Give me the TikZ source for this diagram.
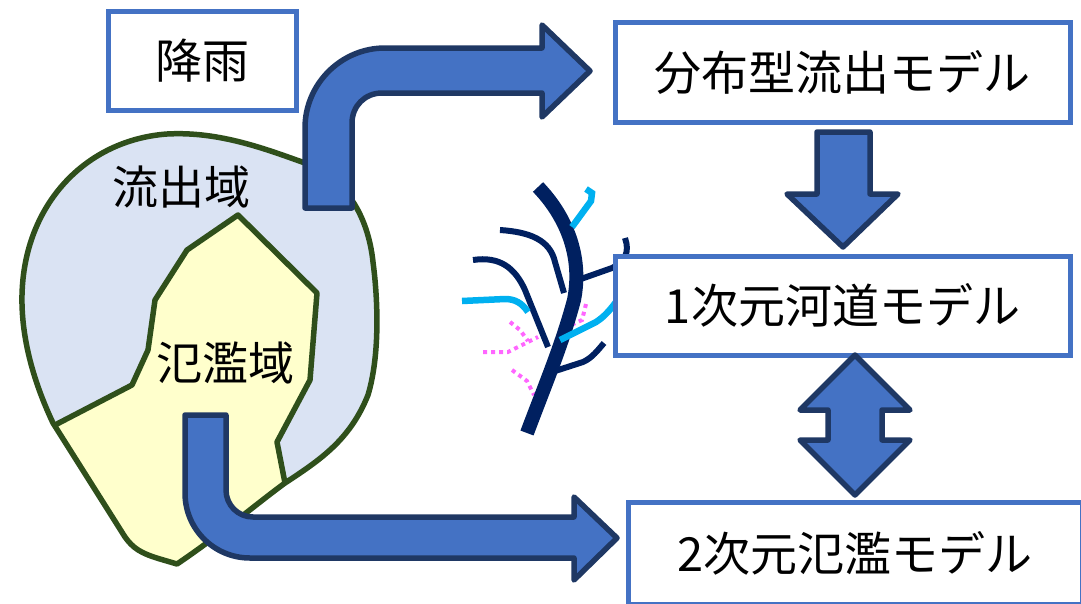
\documentclass[tikz,border=0pt]{standalone}
\usepackage{fontspec}
\newfontfamily\jp{Noto Sans CJK JP}
\definecolor{boxblue}{HTML}{4472C4}
\definecolor{arrowedge}{HTML}{1F3864}
\definecolor{basinfill}{HTML}{DAE3F3}
\definecolor{floodfill}{HTML}{FFFFCC}
\definecolor{basinedge}{HTML}{2F4F1B}
\definecolor{rivernavy}{HTML}{002060}
\definecolor{riverblue}{HTML}{00B0F0}
\definecolor{overflowpink}{HTML}{FF66FF}
\tikzset{%
  modelbox/.style  = {shape=rectangle, draw=boxblue, line width=5pt,%
                      fill=white, inner sep=0pt,%
                      font=\jp\fontsize{47}{50}\selectfont},%
  arealabel/.style = {inner sep=0pt, font=\jp\fontsize{46}{50}\selectfont},%
  bigarrow/.style  = {fill=boxblue, draw=arrowedge, line width=5.5pt, line join=round},%
  basinline/.style = {draw=basinedge, line width=5.5pt, line join=round},%
  trunk/.style     = {draw=rivernavy, line width=14pt},%
  branch/.style    = {draw=rivernavy, line width=6pt},%
  stream/.style    = {draw=riverblue, line width=6.5pt},%
  overflow/.style  = {draw=overflowpink, line width=4pt, dash pattern=on 4pt off 4pt}%
}
% outline of the whole catchment
\newcommand\basinoutline{(177,564) -- (160,559) .. controls (140,553) and (133,548) .. (125,537)
  -- (53,423) .. controls (35,385) and (21,340) .. (22,295)
  .. controls (24,205) and (85,140) .. (167,134)
  .. controls (220,131) and (268,150) .. (305,163)
  .. controls (345,178) and (368,215) .. (373,262)
  .. controls (378,300) and (380,355) .. (368,395)
  .. controls (350,440) and (320,460) .. (285,483)
  .. controls (255,505) and (220,535) .. (177,564) -- cycle}

\begin{document}
\begin{tikzpicture}[x=1pt,y=-1pt]
	\useasboundingbox (0,0) rectangle (1081,603);
	% catchment and flood plain
	\fill[basinfill] \basinoutline;
	\begin{scope}
		\clip \basinoutline;
		\fill[floodfill] (55,425) -- (132,385) -- (148,350) -- (155,300) -- (187,250)
			-- (238,215) -- (317,293) -- (310,380) -- (277,442) -- (285,483)
			-- (340,540) -- (177,620) -- (20,560) -- (0,440) -- cycle;
		\draw[basinline] (55,425) -- (132,385) -- (148,350) -- (155,300) -- (187,250)
			-- (238,215) -- (317,293) -- (310,380) -- (277,442) -- (285,483);
	\end{scope}
	\draw[basinline] \basinoutline;
	\node[arealabel] (basin) at (181,187) {流出域};
	\node[arealabel] (plain) at (225,363) {氾濫域};
	% bent arrows
	\draw[bigarrow] (305,208) -- (305,128) .. controls (305,84) and (341,48) .. (385,48)
		-- (542,48) -- (542,25) -- (590,71) -- (542,117) -- (542,93) -- (382,93)
		.. controls (365,93) and (352,106) .. (352,123) -- (352,208) -- cycle;
	\draw[bigarrow] (185,415) -- (185,493) .. controls (185,529) and (214,558) .. (250,558)
		-- (574,558) -- (574,580) -- (617,538) -- (574,497) -- (574,517) -- (253,517)
		.. controls (238,517) and (226,505) .. (226,490) -- (226,415) -- cycle;
	% river network
	\draw[overflow] (510,322) -- (520,330) -- (528,341);
	\draw[overflow] (483,352) -- (508,352) -- (538,337);
	\draw[overflow] (586,304) -- (582,320) -- (560,330);
	\draw[overflow] (512,370) -- (527,381) -- (534,395);
	\draw[branch] (500,230) .. controls (530,232) and (550,240) .. (555,262) -- (564,293);
	\draw[branch] (473,260) .. controls (500,256) and (515,268) .. (525,290) -- (548,347);
	\draw[branch] (578,280) -- (612,268) .. controls (625,262) and (630,252) .. (625,238);
	\draw[branch] (552,372) -- (583,362) .. controls (592,358) and (598,350) .. (604,343);
	\draw[trunk] (538,187) .. controls (565,215) and (583,255) .. (574,300)
		.. controls (562,345) and (545,385) .. (527,433);
	\draw[stream] (586,189) -- (592,193) -- (591,201) -- (572,227);
	\draw[stream] (462,301) -- (505,299) .. controls (515,299) and (522,303) .. (528,312);
	\draw[stream] (560,340) -- (596,322) .. controls (604,317) and (610,310) .. (616,302);
	% models
	\node[modelbox, minimum width=188pt, minimum height=99pt] (rain) at (202,60.5) {降雨};
	\node[modelbox, minimum width=455pt, minimum height=100pt] (runoff) at (842.5,72) {分布型流出モデル};
	\node[modelbox, minimum width=455pt, minimum height=99pt] (channel) at (842.5,305.5) {1次元河道モデル};
	\node[modelbox, minimum width=454pt, minimum height=102pt] (flood) at (855,553) {2次元氾濫モデル};
	% straight arrows between the models
	\draw[bigarrow] (817,132) -- (870,132) -- (870,194) -- (898,194) -- (843,247)
		-- (787,194) -- (817,194) -- cycle;
	\draw[bigarrow] (855,355) -- (910,410) -- (882,410) -- (882,440) -- (910,440)
		-- (855,495) -- (800,440) -- (828,440) -- (828,410) -- (800,410) -- cycle;
\end{tikzpicture}
\end{document}
